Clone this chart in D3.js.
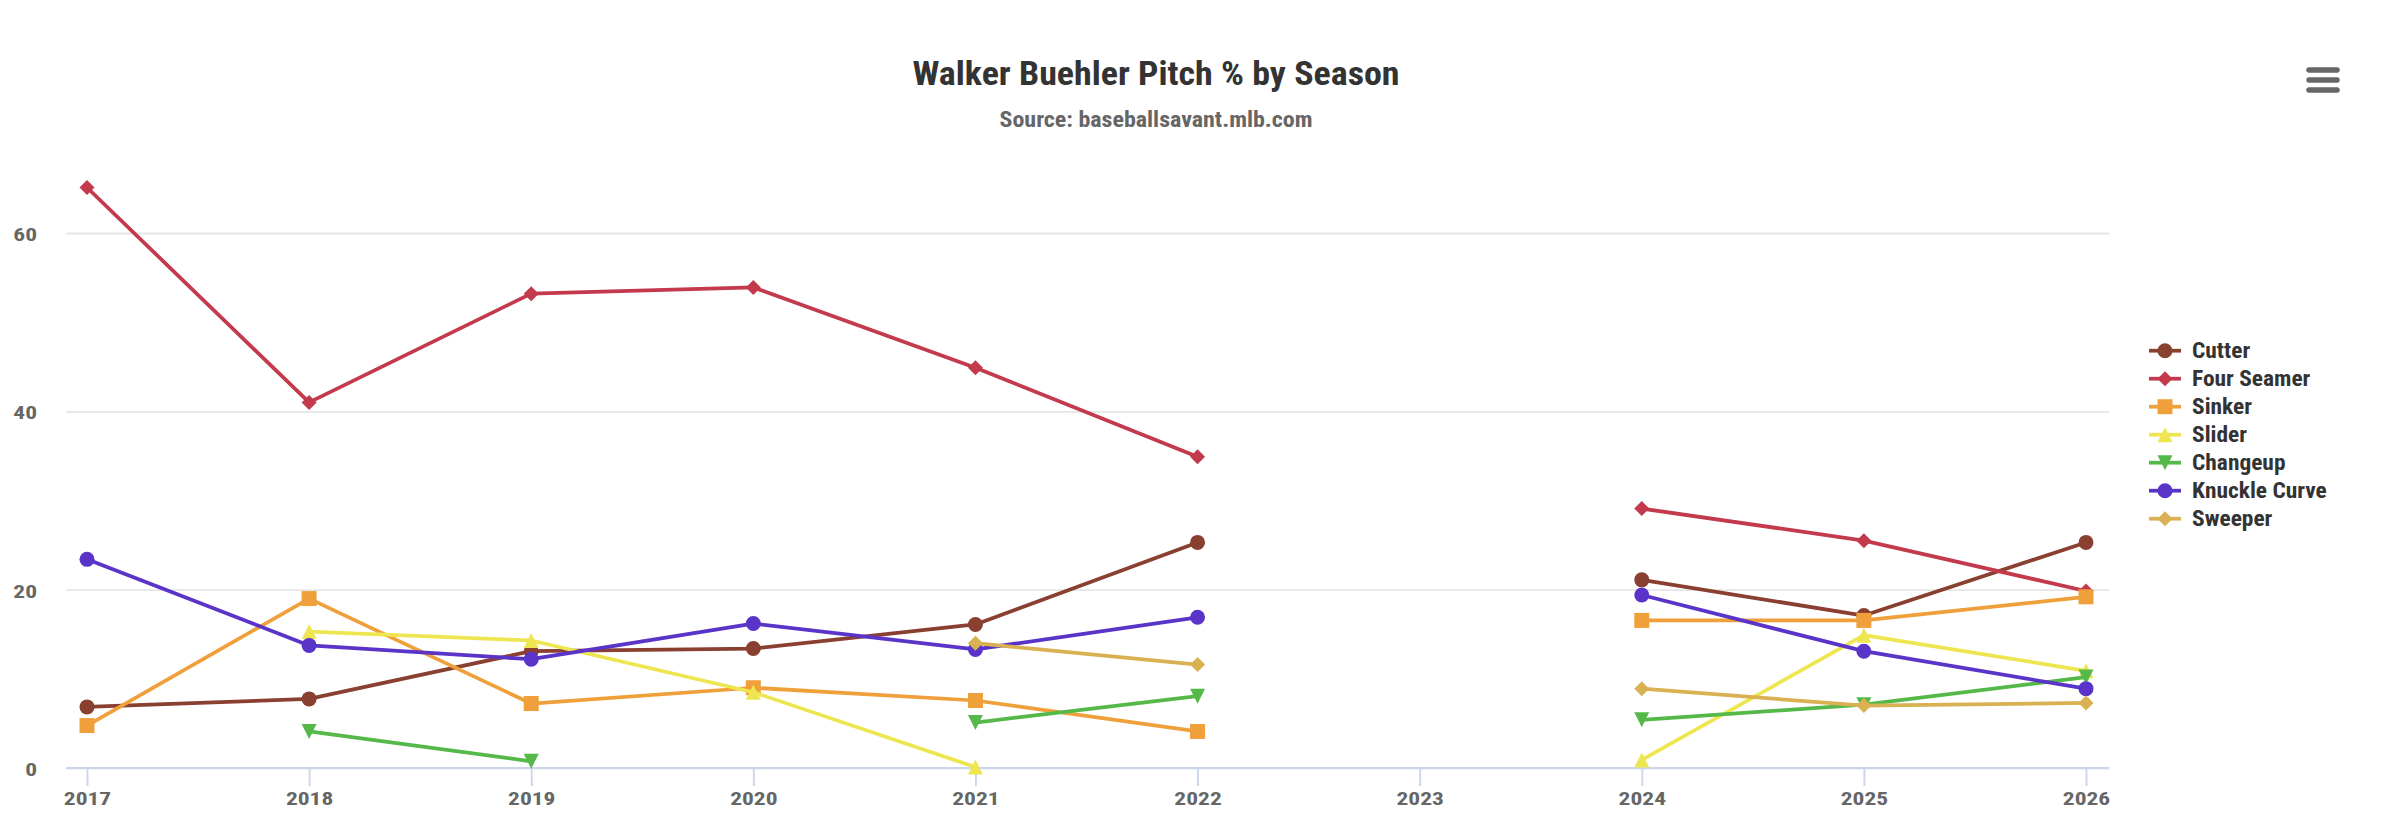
<!DOCTYPE html>
<html>
<head>
<meta charset="utf-8">
<script src="https://cdn.jsdelivr.net/npm/d3@7/dist/d3.min.js"></script>
<style>
  html, body { margin: 0; padding: 0; background: #fff; }
  svg text { font-family: "Roboto Condensed", "Liberation Sans Narrow", "DejaVu Sans Condensed", sans-serif; font-weight: bold; }
</style>
</head>
<body>
<script>
// ---- data ----
var seasons = [2017, 2018, 2019, 2020, 2021, 2022, 2023, 2024, 2025, 2026];
var yTicks  = [0, 20, 40, 60];

var cutter       = [6.85, 7.75, 13.1, 13.4, 16.1, 25.3, null, 21.1, 17.1, 25.3];
var fourSeamer   = [65.1, 41.0, 53.2, 53.9, 44.9, 34.9, null, 29.1, 25.5, 19.85];
var sinker       = [4.76, 19.0, 7.23, 9.0, 7.57, 4.1, null, 16.55, 16.55, 19.2];
var slider       = [null, 15.3, 14.3, 8.5, 0.1, null, null, 0.9, 14.9, 10.9];
var changeup     = [null, 4.1, 0.75, null, 5.1, 8.05, null, 5.4, 7.1, 10.2];
var knuckleCurve = [23.4, 13.75, 12.2, 16.2, 13.3, 16.9, null, 19.4, 13.1, 8.9];
var sweeper      = [null, null, null, null, 14.0, 11.6, null, 8.9, 7.0, 7.3];

var seriesNames  = ["Cutter", "Four Seamer", "Sinker", "Slider", "Changeup", "Knuckle Curve", "Sweeper"];
var seriesValues = [cutter, fourSeamer, sinker, slider, changeup, knuckleCurve, sweeper];
var seriesColors = ["#8a4030", "#c33a4d", "#f0a03a", "#eee650", "#55b94a", "#5a34c8", "#d9b152"];
var seriesShapes = ["circle", "diamond", "square", "triangle", "triangle-down", "circle", "diamond"];

/* ---------------- SVG INIT ---------------- */
var W = 2385, H = 836;
var svg = d3.select("body").append("svg")
    .attr("width", W)
    .attr("height", H);

var x = d3.scaleLinear().domain([2017, 2026]).range([87, 2086]);
var y = d3.scaleLinear().domain([0, 60]).range([768, 233]);
var plotLeft = 66, plotRight = 2109;

// the condensed font on the original is wider than the narrow fallback, stretch a bit
function widen(sel, f) {
  sel.each(function () {
    var w = this.getComputedTextLength();
    d3.select(this).attr("textLength", w * f).attr("lengthAdjust", "spacingAndGlyphs");
  });
}

/* ---------------- TITLES ---------------- */
svg.append("text")
    .attr("x", 1156).attr("y", 85)
    .attr("text-anchor", "middle")
    .attr("textLength", 487).attr("lengthAdjust", "spacingAndGlyphs")
    .style("font-size", "33.75px")
    .style("fill", "#333333")
    .text("Walker Buehler Pitch % by Season");

svg.append("text")
    .attr("x", 1156).attr("y", 127)
    .attr("text-anchor", "middle")
    .attr("textLength", 313).attr("lengthAdjust", "spacingAndGlyphs")
    .style("font-size", "22.5px")
    .style("fill", "#666666")
    .text("Source: baseballsavant.mlb.com");

// export menu (hamburger)
var menu = svg.append("g").attr("class", "menu");
[70, 80, 90].forEach(function (yy) {
  menu.append("line")
      .attr("x1", 2309).attr("x2", 2337)
      .attr("y1", yy).attr("y2", yy)
      .style("stroke", "#666666")
      .style("stroke-width", 5.5)
      .style("stroke-linecap", "round");
});

/* ---------------- AXES ---------------- */
var yAxis = svg.append("g")
    .attr("transform", "translate(" + plotLeft + ",0)")
    .call(d3.axisLeft(y).tickValues(yTicks).tickSize(-(plotRight - plotLeft)).tickPadding(29));
yAxis.select(".domain").remove();
yAxis.selectAll(".tick line")
    .style("stroke", "#e6e6e6")
    .style("stroke-width", 1.875);
yAxis.selectAll(".tick text")
    .attr("dy", "0.4em")
    .style("font-size", "18.75px")
    .style("fill", "#666666")
    .call(widen, 1.25);

var xAxis = svg.append("g")
    .attr("transform", "translate(0," + y(0) + ")")
    .call(d3.axisBottom(x).tickValues(seasons).tickFormat(d3.format("d")).tickSize(18).tickSizeOuter(0).tickPadding(6));
xAxis.select(".domain")
    .attr("d", "M" + plotLeft + ",0H" + plotRight)
    .style("stroke", "#ccd6eb")
    .style("stroke-width", 1.875);
xAxis.selectAll(".tick line")
    .style("stroke", "#ccd6eb")
    .style("stroke-width", 1.875);
xAxis.selectAll(".tick text")
    .style("font-size", "18.75px")
    .style("fill", "#666666")
    .call(widen, 1.25);

/* ---------------- SERIES ---------------- */
var R = 7.5;
function markerPath(shape, cx, cy, r) {
  if (shape == "circle")
    return "M" + (cx - r) + "," + cy + "a" + r + "," + r + " 0 1,0 " + (2 * r) + ",0a" + r + "," + r + " 0 1,0 " + (-2 * r) + ",0Z";
  if (shape == "diamond")
    return "M" + cx + "," + (cy - r) + "L" + (cx + r) + "," + cy + "L" + cx + "," + (cy + r) + "L" + (cx - r) + "," + cy + "Z";
  if (shape == "square")
    return "M" + (cx - r) + "," + (cy - r) + "H" + (cx + r) + "V" + (cy + r) + "H" + (cx - r) + "Z";
  if (shape == "triangle")
    return "M" + cx + "," + (cy - r) + "L" + (cx + r) + "," + (cy + r) + "L" + (cx - r) + "," + (cy + r) + "Z";
  // triangle-down
  return "M" + (cx - r) + "," + (cy - r) + "L" + (cx + r) + "," + (cy - r) + "L" + cx + "," + (cy + r) + "Z";
}

var line = d3.line()
    .defined(function (d) { return d.v != null; })
    .x(function (d) { return x(d.s); })
    .y(function (d) { return y(d.v); });

seriesNames.forEach(function (name, i) {
  var pts = seasons.map(function (s, j) { return { s: s, v: seriesValues[i][j] }; });
  var g = svg.append("g").attr("class", "series").attr("id", name.replace(/ /g, "_"));
  g.append("path")
      .datum(pts)
      .attr("d", line)
      .style("fill", "none")
      .style("stroke", seriesColors[i])
      .style("stroke-width", 3.75)
      .style("stroke-linejoin", "round")
      .style("stroke-linecap", "round");
  g.selectAll("path.marker")
      .data(pts.filter(function (d) { return d.v != null; }))
      .enter().append("path")
      .attr("class", "marker")
      .attr("d", function (d) { return markerPath(seriesShapes[i], x(d.s), y(d.v), R); })
      .style("fill", seriesColors[i]);
});

/* ---------------- LEGEND ---------------- */
var legend = svg.append("g").attr("class", "legend");
seriesNames.forEach(function (name, i) {
  var cy = 350.7 + i * 28;
  legend.append("line")
      .attr("x1", 2149).attr("x2", 2181)
      .attr("y1", cy).attr("y2", cy)
      .style("stroke", seriesColors[i])
      .style("stroke-width", 3.75);
  legend.append("path")
      .attr("d", markerPath(seriesShapes[i], 2165, cy, R))
      .style("fill", seriesColors[i]);
  legend.append("text")
      .attr("x", 2192).attr("y", cy + 7.5)
      .style("font-size", "22.5px")
      .style("fill", "#333333")
      .text(name)
      .call(widen, 1.04);
});
</script>
</body>
</html>
